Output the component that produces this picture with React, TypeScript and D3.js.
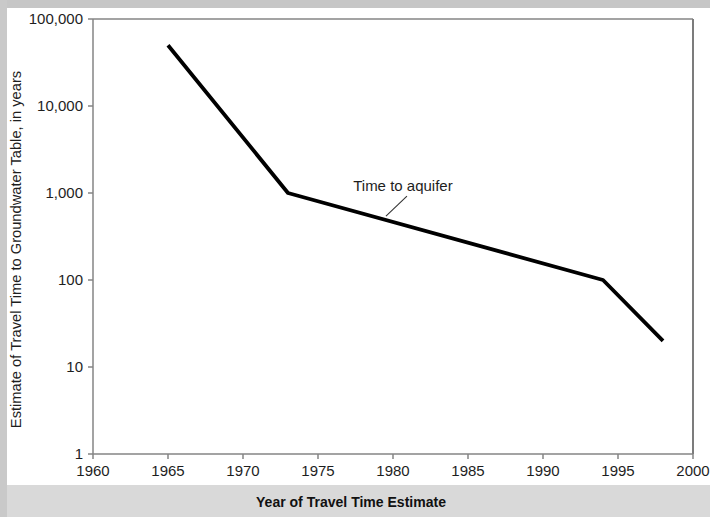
import React from "react";
import * as d3 from "d3";

const years = [1965, 1973, 1994, 1998];
const travelTime = [50000, 1000, 100, 20];
const xTicks = [1960, 1965, 1970, 1975, 1980, 1985, 1990, 1995, 2000];
const yTicks = [1, 10, 100, 1000, 10000, 100000];
const yTickLabels = ["1", "10", "100", "1,000", "10,000", "100,000"];
const annotationText = "Time to aquifer";
const annotationYear = 1979.53;
const xTitle = "Year of Travel Time Estimate";
const yTitle = "Estimate of Travel Time to Groundwater Table, in years";

const W = 710;
const H = 517;
const FONT = "'Liberation Sans', Arial, Helvetica, sans-serif";

export default function App() {
  const x = d3.scaleLinear().domain([1960, 2000]).range([93, 693]);
  const y = d3.scaleLog().domain([1, 100000]).range([454, 19]);

  const data = years.map((yr, i) => ({ yr, v: travelTime[i] }));
  const line = d3
    .line<{ yr: number; v: number }>()
    .x((d) => x(d.yr))
    .y((d) => y(d.v));

  // anchor on the line (log interpolation between neighbouring points)
  const i1 = d3.bisectRight(years, annotationYear);
  const t = (annotationYear - years[i1 - 1]) / (years[i1] - years[i1 - 1]);
  const logV = d3.interpolateNumber(Math.log10(travelTime[i1 - 1]), Math.log10(travelTime[i1]))(t);
  const ax = x(annotationYear);
  const ay = y(Math.pow(10, logV));

  const axisColor = "#858585";
  const textColor = "#1e1e1e";

  return (
    <svg
      width={W}
      height={H}
      style={{ position: "absolute", left: 0, top: 0, display: "block" }}
    >
      {/* backgrounds */}
      <rect x={0} y={0} width={W} height={H} fill="#d9d9d9" />
      <rect x={0} y={0} width={W} height={8} fill="#c6c6c6" />
      <rect x={0} y={0} width={7} height={H} fill="#c9c9c9" />
      <rect x={7} y={8} width={W - 7} height={477} fill="#ffffff" />

      {/* frame */}
      <line x1={x(1960)} x2={x(2000)} y1={y(100000)} y2={y(100000)} stroke={axisColor} strokeWidth={1.5} />
      <line x1={x(2000)} x2={x(2000)} y1={y(100000)} y2={y(1)} stroke="#7c7c7c" strokeWidth={2} />
      <line x1={x(1960)} x2={x(2000)} y1={y(1)} y2={y(1)} stroke={axisColor} strokeWidth={1.5} />
      <line x1={x(1960)} x2={x(1960)} y1={y(100000)} y2={y(1)} stroke={axisColor} strokeWidth={1.5} />

      {/* y ticks */}
      {yTicks.map((v, i) => (
        <g key={v}>
          <line x1={x(1960) - 5} x2={x(1960)} y1={y(v)} y2={y(v)} stroke={axisColor} strokeWidth={1.5} />
          <text
            x={x(1960) - 10}
            y={y(v)}
            dy="0.35em"
            textAnchor="end"
            fontFamily={FONT}
            fontSize={15}
            fill={textColor}
          >
            {yTickLabels[i]}
          </text>
        </g>
      ))}

      {/* x ticks */}
      {xTicks.map((yr) => (
        <g key={yr}>
          <line x1={x(yr)} x2={x(yr)} y1={y(1)} y2={y(1) + 5} stroke={axisColor} strokeWidth={1.5} />
          <text
            x={x(yr)}
            y={y(1) + 21.5}
            textAnchor="middle"
            fontFamily={FONT}
            fontSize={15}
            fill={textColor}
          >
            {yr}
          </text>
        </g>
      ))}

      {/* data line */}
      <path
        d={line(data) || ""}
        fill="none"
        stroke="#000"
        strokeWidth={3.8}
        strokeLinejoin="round"
        strokeLinecap="butt"
      />

      {/* annotation */}
      <line x1={ax} y1={ay - 4} x2={ax + 21} y2={ay - 24} stroke="#333" strokeWidth={1.1} />
      <text
        x={ax + 17}
        y={ay - 29.5}
        textAnchor="middle"
        fontFamily={FONT}
        fontSize={15}
        fill={textColor}
      >
        {annotationText}
      </text>

      {/* axis titles */}
      <text
        transform={`translate(21, ${(y(1) + y(100000)) / 2 + 13}) rotate(-90)`}
        textAnchor="middle"
        fontFamily={FONT}
        fontSize={14.7}
        fill={textColor}
      >
        {yTitle}
      </text>
      <text
        x={351}
        y={507}
        textAnchor="middle"
        fontFamily="'Liberation Sans Narrow', 'Arial Narrow', 'Liberation Sans', sans-serif"
        fontWeight="bold"
        fontSize={15}
        fill="#111"
        textLength={190}
        lengthAdjust="spacingAndGlyphs"
      >
        {xTitle}
      </text>
    </svg>
  );
}
